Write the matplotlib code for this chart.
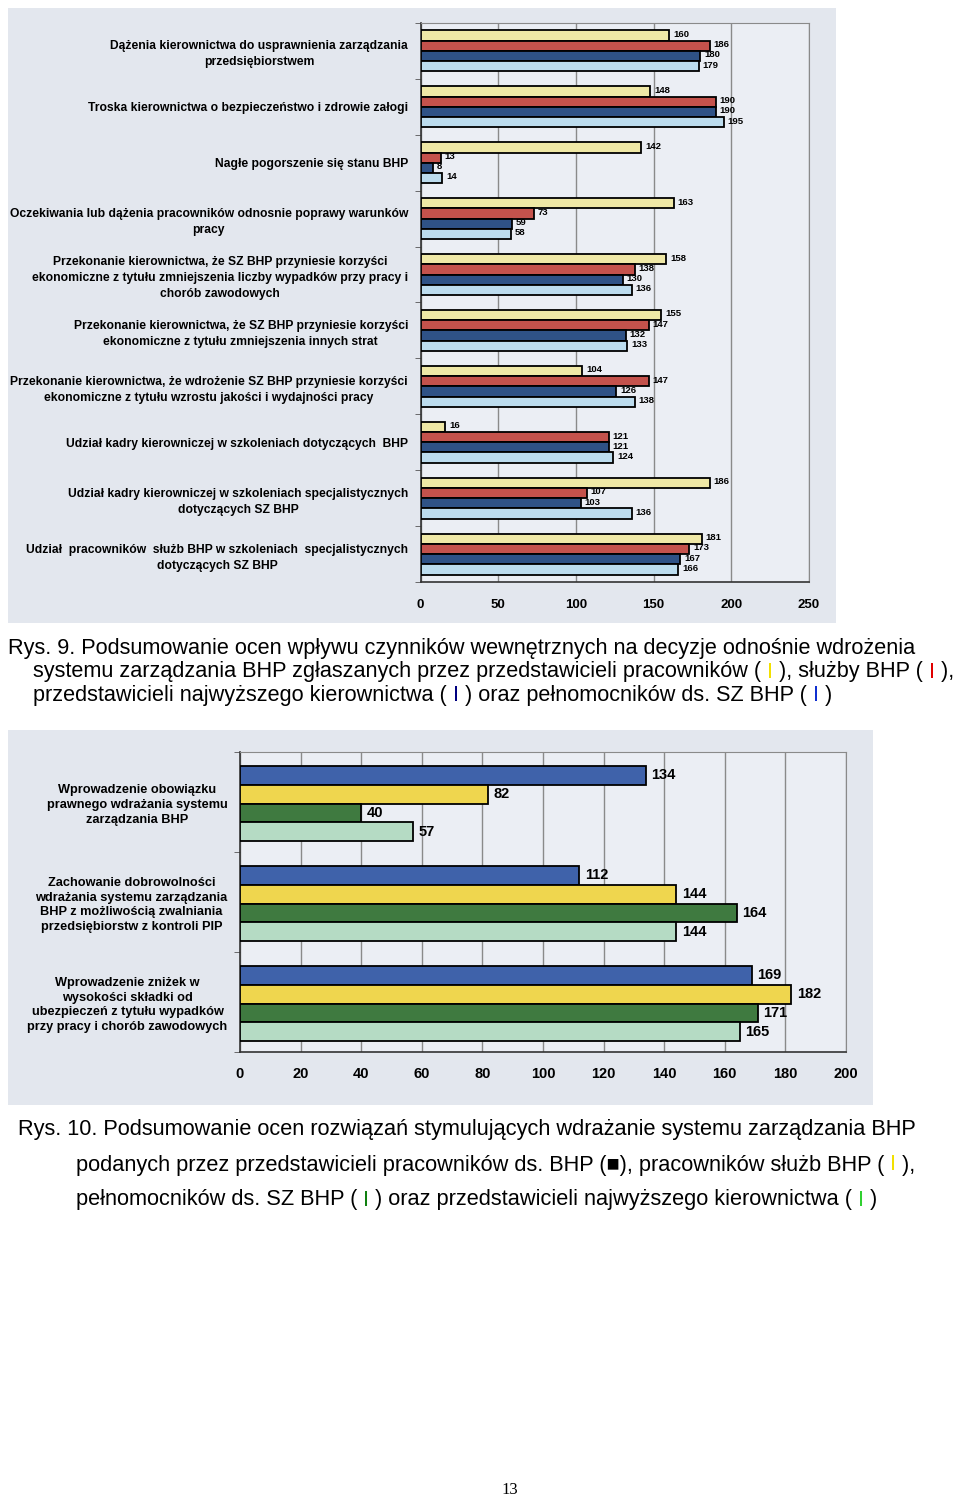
import matplotlib
matplotlib.use("Agg")
import matplotlib.pyplot as plt
from matplotlib.patches import Rectangle
import numpy as np

plt.rcParams['font.family'] = ['Liberation Sans', 'DejaVu Sans']

# ---------------- data: Rys. 9 ----------------
top_categories = [
    "Dążenia kierownictwa do usprawnienia zarządzania\nprzedsiębiorstwem",
    "Troska kierownictwa o bezpieczeństwo i zdrowie załogi",
    "Nagłe pogorszenie się stanu BHP",
    "Oczekiwania lub dążenia pracowników odnosnie poprawy warunków\npracy",
    "Przekonanie kierownictwa, że SZ BHP przyniesie korzyści\nekonomiczne z tytułu zmniejszenia liczby wypadków przy pracy i\nchorób zawodowych",
    "Przekonanie kierownictwa, że SZ BHP przyniesie korzyści\nekonomiczne z tytułu zmniejszenia innych strat",
    "Przekonanie kierownictwa, że wdrożenie SZ BHP przyniesie korzyści\nekonomiczne z tytułu wzrostu jakości i wydajności pracy",
    "Udział kadry kierowniczej w szkoleniach dotyczących  BHP",
    "Udział kadry kierowniczej w szkoleniach specjalistycznych\ndotyczących SZ BHP",
    "Udział  pracowników  służb BHP w szkoleniach  specjalistycznych\ndotyczących SZ BHP",
]
top_pracownicy = [160, 148, 142, 163, 158, 155, 104, 16, 186, 181]
top_sluzby_bhp = [186, 190, 13, 73, 138, 147, 147, 121, 107, 173]
top_kierownictwo = [180, 190, 8, 59, 130, 132, 126, 121, 103, 167]
top_pelnomocnicy = [179, 195, 14, 58, 136, 133, 138, 124, 136, 166]
top_ticks = [0, 50, 100, 150, 200, 250]

# ---------------- data: Rys. 10 ----------------
bottom_categories = [
    "Wprowadzenie obowiązku\nprawnego wdrażania systemu\nzarządzania BHP",
    "Zachowanie dobrowolności\nwdrażania systemu zarządzania\nBHP z możliwością zwalniania\nprzedsiębiorstw z kontroli PIP",
    "Wprowadzenie zniżek w\nwysokości składki od\nubezpieczeń z tytułu wypadków\nprzy pracy i chorób zawodowych",
]
bot_pracownicy_bhp = [134, 112, 169]
bot_sluzby_bhp = [82, 144, 182]
bot_pelnomocnicy = [40, 164, 171]
bot_kierownictwo = [57, 144, 165]
bottom_ticks = [0, 20, 40, 60, 80, 100, 120, 140, 160, 180, 200]

W, H = 960, 1499
fig = plt.figure(figsize=(W / 100, H / 100), dpi=100)
fig.patch.set_facecolor('white')


def fx(x):
    return x / W


def fy(y):
    return 1 - y / H


def rect_px(x0, y0, x1, y1):
    return [fx(x0), fy(y1), (x1 - x0) / W, (y1 - y0) / H]


# background boxes of scanned charts
for (x0, y0, x1, y1) in [(8, 8, 836, 623), (8, 730, 873, 1105)]:
    r = Rectangle((fx(x0), fy(y1)), (x1 - x0) / W, (y1 - y0) / H,
                  transform=fig.transFigure, facecolor='#e3e7ee',
                  edgecolor='none', zorder=-10)
    fig.add_artist(r)

# ---------------- top chart ----------------
ax1 = fig.add_axes(rect_px(420.5, 23, 809, 582))
ax1.set_zorder(1)
ax1.set_facecolor('#ebeef4')
n = len(top_categories)
y = np.arange(n)
bh = 0.183
series_top = [
    (top_pracownicy, '#efe8a6'),
    (top_sluzby_bhp, '#c4524c'),
    (top_kierownictwo, '#2f5286'),
    (top_pelnomocnicy, '#bcdcee'),
]
for k, (vals, col) in enumerate(series_top):
    yy = y + (k - 1.5) * bh
    ax1.barh(yy, vals, height=bh, color=col, edgecolor='black', linewidth=1.3, zorder=3)
    for yv, v in zip(yy, vals):
        ax1.text(v + 2.5, yv - 0.02, str(v), fontsize=6.8, fontweight='bold',
                 va='center', ha='left', zorder=4)
ax1.set_xlim(0, 250)
ax1.set_ylim(n - 0.5, -0.5)
ax1.set_xticks(top_ticks)
ax1.set_xticklabels([str(t) for t in top_ticks], fontsize=9.5, fontweight='bold')
ax1.tick_params(axis='x', length=0, pad=12)
ax1.set_yticks(y)
ax1.set_yticklabels(top_categories, fontsize=8.7, fontweight='bold',
                    multialignment='center', linespacing=1.45)
ax1.tick_params(axis='y', which='major', length=0, pad=9)
ax1.set_yticks(np.arange(n + 1) - 0.5, minor=True)
ax1.tick_params(axis='y', which='minor', length=4, color='#555555', direction='out')
ax1.grid(axis='x', color='#8a8a8a', linewidth=1, zorder=1)
ax1.set_axisbelow(True)
for s in ['top', 'right']:
    ax1.spines[s].set_color('#8a8a8a')
for s in ['left', 'bottom']:
    ax1.spines[s].set_color('#333333')
    ax1.spines[s].set_linewidth(1.2)

# ---------------- bottom chart ----------------
ax2 = fig.add_axes(rect_px(240, 752, 846, 1052))
ax2.set_zorder(1)
ax2.set_facecolor('#ebeef4')
m = len(bottom_categories)
y2 = np.arange(m)
bh2 = 0.1875
series_bot = [
    (bot_pracownicy_bhp, '#3f62aa'),
    (bot_sluzby_bhp, '#efd64e'),
    (bot_pelnomocnicy, '#3f7a40'),
    (bot_kierownictwo, '#b5dbc4'),
]
for k, (vals, col) in enumerate(series_bot):
    yy = y2 + (k - 1.5) * bh2 + 0.015
    ax2.barh(yy, vals, height=bh2, color=col, edgecolor='black', linewidth=1.3, zorder=3)
    for yv, v in zip(yy, vals):
        ax2.text(v + 1.8, yv, str(v), fontsize=10.5, fontweight='bold',
                 va='center', ha='left', zorder=4)
ax2.set_xlim(0, 200)
ax2.set_ylim(m - 0.5, -0.5)
ax2.set_xticks(bottom_ticks)
ax2.set_xticklabels([str(t) for t in bottom_ticks], fontsize=10.5, fontweight='bold')
ax2.tick_params(axis='x', length=0, pad=11)
ax2.set_yticks(y2)
ax2.set_yticklabels(bottom_categories, fontsize=9.2, fontweight='bold',
                    multialignment='center', linespacing=1.3)
ax2.tick_params(axis='y', which='major', length=0, pad=9)
ax2.set_yticks(np.arange(m + 1) - 0.5, minor=True)
ax2.tick_params(axis='y', which='minor', length=4, color='#555555', direction='out')
ax2.grid(axis='x', color='#8a8a8a', linewidth=1, zorder=1)
ax2.set_axisbelow(True)
for s in ['top', 'right']:
    ax2.spines[s].set_color('#8a8a8a')
for s in ['left', 'bottom']:
    ax2.spines[s].set_color('#333333')
    ax2.spines[s].set_linewidth(1.2)

# ---------------- captions ----------------
renderer = fig.canvas.get_renderer()
cap_family = ['Liberation Sans', 'DejaVu Sans']


def text_width(s, size):
    t = fig.text(0, 0, s, fontsize=size, family=cap_family)
    w = t.get_window_extent(renderer).width
    t.remove()
    return w


def fit_size(s, target):
    w = text_width(s, 10)
    return 10 * target / w


def draw_line(x0, yc, segments, size):
    full = ''
    for s, c in segments:
        if full:
            off = text_width(full + '.', size) - text_width('.', size)
        else:
            off = 0
        fig.text(fx(x0 + off), fy(yc), s, fontsize=size, color=c, family=cap_family,
                 va='center', ha='left')
        full += s


cap9 = [
    [("Rys. 9. Podsumowanie ocen wpływu czynników wewnętrznych na decyzje odnośnie wdrożenia", 'black')],
    [("systemu zarządzania BHP zgłaszanych przez przedstawicieli pracowników ( ", 'black'),
     ("I", '#f2e000'), (" ), służby BHP ( ", 'black'), ("I", '#e00000'), (" ),", 'black')],
    [("przedstawicieli najwyższego kierownictwa ( ", 'black'), ("I", '#000080'),
     (" ) oraz pełnomocników ds. SZ BHP ( ", 'black'), ("I", '#1030d0'), (" )", 'black')],
]
size9 = fit_size(cap9[0][0][0], 912)
draw_line(8, 648, cap9[0], size9)
draw_line(33, 672, cap9[1], size9)
draw_line(33, 696, cap9[2], size9)

cap10 = [
    [("Rys. 10. Podsumowanie ocen rozwiązań stymulujących wdrażanie systemu zarządzania BHP", 'black')],
    [("podanych przez przedstawicieli pracowników ds. BHP (■), pracowników służb BHP ( ", 'black'),
     ("I", '#f2e000'), (" ),", 'black')],
    [("pełnomocników ds. SZ BHP ( ", 'black'), ("I", '#108010'),
     (" ) oraz przedstawicieli najwyższego kierownictwa ( ", 'black'), ("I", '#30d030'), (" )", 'black')],
]
size10 = fit_size(cap10[0][0][0], 900)
draw_line(18, 1130, cap10[0], size10)
draw_line(76, 1165, cap10[1], size10)
draw_line(76, 1200, cap10[2], size10)

fig.text(fx(510), fy(1490), "13", fontsize=12, family=['Liberation Serif', 'DejaVu Serif'],
         ha='center', va='center')

fig.savefig('out.png', dpi=100, facecolor='white')
